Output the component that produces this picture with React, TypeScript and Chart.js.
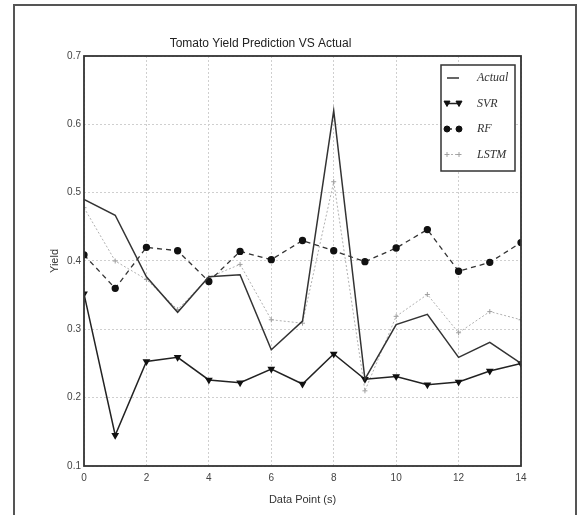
import React, { useEffect, useRef } from "react";
import { Chart, registerables } from "chart.js";

Chart.register(...registerables);

const dataPoints = [0, 1, 2, 3, 4, 5, 6, 7, 8, 9, 10, 11, 12, 13, 14];
const actual = [0.49, 0.467, 0.377, 0.325, 0.377, 0.38, 0.27, 0.312, 0.62, 0.227, 0.307, 0.322, 0.259, 0.281, 0.25];
const svr = [0.352, 0.145, 0.253, 0.259, 0.226, 0.222, 0.242, 0.22, 0.264, 0.227, 0.231, 0.219, 0.223, 0.239, 0.25];
const rf = [0.409, 0.36, 0.42, 0.415, 0.37, 0.414, 0.402, 0.43, 0.415, 0.399, 0.419, 0.446, 0.385, 0.398, 0.427];
const lstm = [0.478, 0.4, 0.373, 0.329, 0.376, 0.395, 0.314, 0.309, 0.516, 0.21, 0.319, 0.351, 0.295, 0.326, 0.314];
const seriesNames = ["Actual", "SVR", "RF", "LSTM"];
const chartTitle = "Tomato Yield Prediction VS Actual";
const xTitle = "Data Point (s)";
const yTitle = "Yield";

const toPts = (arr: number[]) => dataPoints.map((x, i) => ({ x, y: arr[i] }));

const framePlugin = {
  id: "frame",
  afterDatasetsDraw(chart: any) {
    const { ctx, chartArea: a } = chart;
    ctx.save();
    ctx.strokeStyle = "#333";
    ctx.lineWidth = 1.8;
    ctx.strokeRect(a.left, a.top, a.right - a.left, a.bottom - a.top);
    ctx.restore();
  },
};

function drawPointShape(ctx: CanvasRenderingContext2D, o: any, x: number, y: number) {
  const r = o.radius;
  ctx.beginPath();
  if (o.pointStyle === "circle") {
    ctx.arc(x, y, r, 0, Math.PI * 2);
    ctx.fill();
    ctx.stroke();
  } else if (o.pointStyle === "triangle") {
    ctx.moveTo(x - r, y - r * 0.8);
    ctx.lineTo(x + r, y - r * 0.8);
    ctx.lineTo(x, y + r);
    ctx.closePath();
    ctx.fill();
    ctx.stroke();
  } else if (o.pointStyle === "cross") {
    ctx.moveTo(x - r, y);
    ctx.lineTo(x + r, y);
    ctx.moveTo(x, y - r);
    ctx.lineTo(x, y + r);
    ctx.stroke();
  }
}

const legendPlugin = {
  id: "insideLegend",
  afterDraw(chart: any) {
    const { ctx } = chart;
    const boxL = 441, boxT = 65, boxR = 515, boxB = 171;
    ctx.save();
    ctx.fillStyle = "#fff";
    ctx.fillRect(boxL, boxT, boxR - boxL, boxB - boxT);
    ctx.strokeStyle = "#333";
    ctx.lineWidth = 1.5;
    ctx.strokeRect(boxL, boxT, boxR - boxL, boxB - boxT);
    const ds = chart.data.datasets;
    ds.forEach((d: any, i: number) => {
      const y = 78 + i * 25.5;
      const x1 = 447, x2 = 459;
      ctx.save();
      ctx.strokeStyle = d.borderColor;
      ctx.lineWidth = d.borderWidth;
      ctx.setLineDash(d.borderDash || []);
      ctx.beginPath();
      ctx.moveTo(x1, y);
      ctx.lineTo(x2, y);
      ctx.stroke();
      ctx.restore();
      if (d.pointStyle && d.pointRadius > 0) {
        const opts = {
          pointStyle: d.pointStyle,
          radius: d.pointRadius,
          borderWidth: d.pointBorderWidth || 1,
        };
        ctx.save();
        ctx.fillStyle = d.pointBackgroundColor;
        ctx.strokeStyle = d.pointBorderColor;
        ctx.lineWidth = opts.borderWidth;
        drawPointShape(ctx, opts, x1, y);
        drawPointShape(ctx, opts, x2, y);
        ctx.restore();
      }
      ctx.fillStyle = "#333";
      ctx.font = "italic 12px 'Liberation Serif', 'DejaVu Serif', serif";
      ctx.textAlign = "left";
      ctx.textBaseline = "middle";
      ctx.fillText(d.label, 477, y);
    });
    ctx.restore();
  },
};

export default function App() {
  const ref = useRef<HTMLCanvasElement | null>(null);
  useEffect(() => {
    if (!ref.current) return;
    const chart = new Chart(ref.current, {
      type: "line",
      data: {
        datasets: [
          {
            label: seriesNames[0],
            data: toPts(actual),
            borderColor: "#333",
            borderWidth: 1.5,
            pointRadius: 0,
            pointStyle: false as any,
            fill: false,
            tension: 0,
          },
          {
            label: seriesNames[1],
            data: toPts(svr),
            borderColor: "#222",
            borderWidth: 1.5,
            pointStyle: "triangle",
            pointRotation: 180,
            pointRadius: 3,
            pointBackgroundColor: "#111",
            pointBorderColor: "#111",
            fill: false,
            tension: 0,
          },
          {
            label: seriesNames[2],
            data: toPts(rf),
            borderColor: "#333",
            borderWidth: 1.3,
            borderDash: [5, 4],
            pointStyle: "circle",
            pointRadius: 3,
            pointBackgroundColor: "#111",
            pointBorderColor: "#111",
            fill: false,
            tension: 0,
          },
          {
            label: seriesNames[3],
            data: toPts(lstm),
            borderColor: "#b0b0b0",
            borderWidth: 1,
            borderDash: [2, 2],
            pointStyle: "cross",
            pointRadius: 2.5,
            pointBackgroundColor: "#a0a0a0",
            pointBorderColor: "#a0a0a0",
            fill: false,
            tension: 0,
          },
        ] as any,
      },
      options: {
        animation: false,
        responsive: false,
        maintainAspectRatio: false,
        layout: { padding: { left: 0, right: 56, top: 0, bottom: 0 } },
        plugins: {
          legend: { display: false },
          tooltip: { enabled: false },
          title: {
            display: true,
            text: chartTitle,
            color: "#222",
            font: { family: "'Liberation Sans', Arial, sans-serif", size: 12, weight: "normal" as any, lineHeight: 1.2 },
            padding: { top: 36, bottom: 5.6 },
          },
        },
        scales: {
          x: {
            type: "linear",
            min: 0,
            max: 14,
            afterFit: (s: any) => { s.height = 49; },
            ticks: {
              stepSize: 2,
              color: "#444",
              font: { family: "'Liberation Sans', Arial, sans-serif", size: 10 },
              padding: 6,
              maxRotation: 0,
            },
            grid: { color: "#cfcfcf", lineWidth: 1, drawTicks: false },
            border: { display: false, dash: [2, 2] },
            title: {
              display: true,
              text: xTitle,
              color: "#333",
              font: { family: "'Liberation Sans', Arial, sans-serif", size: 11 },
              padding: { top: 4, bottom: 8 },
            },
          },
          y: {
            type: "linear",
            min: 0.1,
            max: 0.7,
            afterFit: (s: any) => { s.width = 84; },
            ticks: {
              stepSize: 0.1,
              color: "#444",
              font: { family: "'Liberation Sans', Arial, sans-serif", size: 10 },
              padding: 3,
              callback: (v: any) => Number(v).toFixed(1),
            },
            grid: { color: "#cfcfcf", lineWidth: 1, drawTicks: false },
            border: { display: false, dash: [2, 2] },
            title: {
              display: true,
              text: yTitle,
              color: "#333",
              font: { family: "'Liberation Sans', Arial, sans-serif", size: 11 },
              padding: { top: 48, bottom: 0 },
            },
          },
        },
      },
      plugins: [framePlugin, legendPlugin],
    });
    return () => chart.destroy();
  }, []);

  return (
    <div style={{ position: "fixed", left: 0, top: 0, width: 577, height: 515, overflow: "hidden", background: "#fff" }}>
      <canvas ref={ref} width={577} height={515} style={{ position: "absolute", left: 0, top: 0, width: 577, height: 515 }} />
      <div
        style={{
          position: "absolute",
          left: 13,
          top: 4,
          width: 564,
          height: 530,
          boxSizing: "border-box",
          border: "2px solid #555",
          pointerEvents: "none",
        }}
      />
    </div>
  );
}
